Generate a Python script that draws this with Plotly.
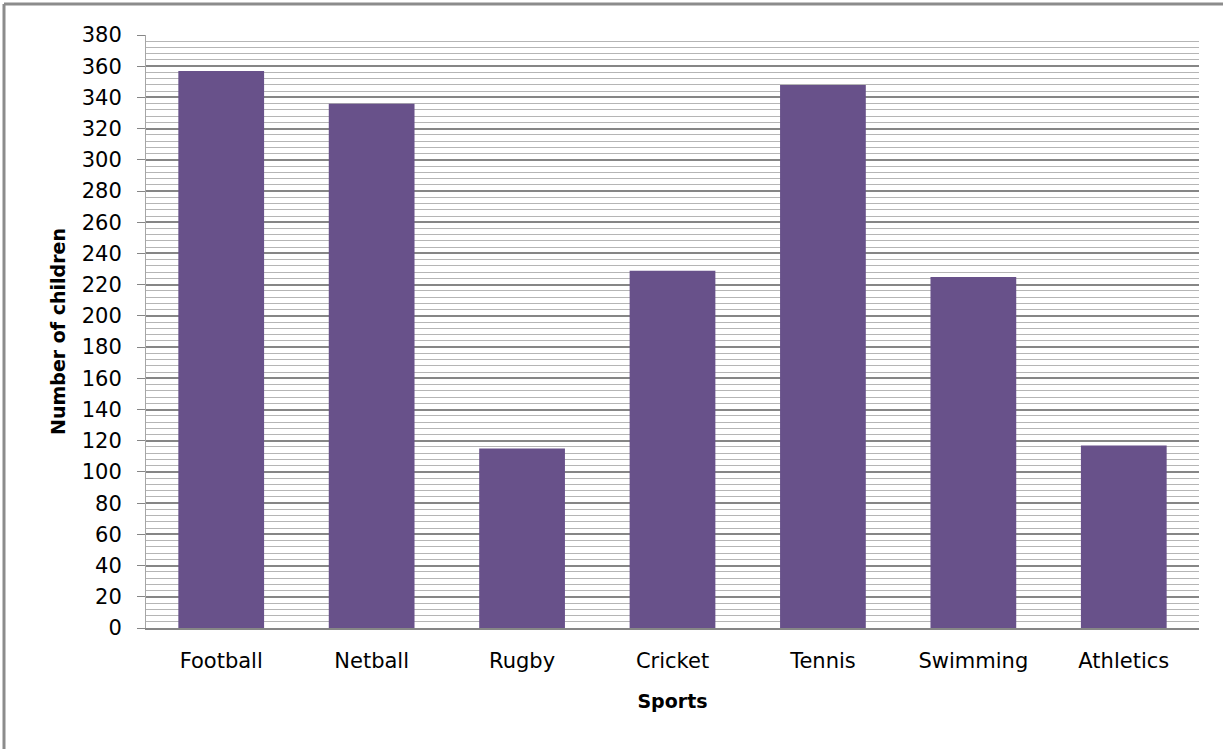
import plotly.graph_objects as go

sports = ["Football", "Netball", "Rugby", "Cricket", "Tennis", "Swimming", "Athletics"]
children = [357, 336, 115, 229, 348, 225, 117]
y_ticks = list(range(0, 381, 20))

W, H = 1223, 749
L, R, T, B = 146, 24, 35, 121
pw, ph = W - L - R, H - T - B

def px_x(x):
    return (x - L) / pw

def px_y(y):
    return (H - B - y) / ph

fig = go.Figure(go.Bar(
    x=sports, y=children,
    marker=dict(color="#68518a", line=dict(width=0)),
))

fig.update_layout(
    width=W, height=H,
    margin=dict(l=L, r=R, t=T, b=B),
    paper_bgcolor="white", plot_bgcolor="white",
    bargap=0.43,
    showlegend=False,
    font=dict(family="DejaVu Sans", color="black"),
)

fig.update_xaxes(
    showgrid=False,
    showline=True, linecolor="#868686", linewidth=2,
    ticks="", tickfont=dict(size=21, family="DejaVu Sans"),
    ticklabelstandoff=13,
    title=dict(text="Sports", font=dict(size=19, family="DejaVu Sans", weight="bold"), standoff=22),
)

fig.update_yaxes(
    range=[0, 380],
    tickvals=y_ticks,
    ticks="outside", ticklen=8, tickcolor="#868686", tickwidth=1,
    showline=True, linecolor="#a6a6a6", linewidth=1,
    showgrid=True, gridcolor="#868686", gridwidth=1.5,
    minor=dict(dtick=4, showgrid=True, gridcolor="#b5b5b5", gridwidth=1.2, ticks=""),
    tickfont=dict(size=21, family="DejaVu Sans"),
    ticklabelstandoff=11,
    zeroline=False,
    title=dict(text="Number of children", font=dict(size=19, family="DejaVu Sans", weight="bold"), standoff=11),
)

# outer frame (top and left edges visible)
fig.add_shape(type="line", xref="paper", yref="paper",
              x0=px_x(4), x1=px_x(1223), y0=px_y(4), y1=px_y(4),
              line=dict(color="#8c8c8c", width=3))
fig.add_shape(type="line", xref="paper", yref="paper",
              x0=px_x(4), x1=px_x(4), y0=px_y(4), y1=px_y(749),
              line=dict(color="#8c8c8c", width=3))

fig.write_html("out.html")
